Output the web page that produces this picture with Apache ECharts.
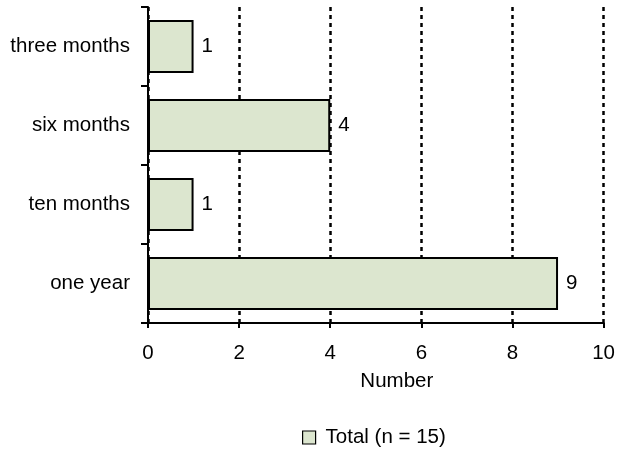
<!DOCTYPE html>
<html><head><meta charset="utf-8">
<script src="https://cdn.jsdelivr.net/npm/echarts@6/dist/echarts.min.js"></script>
<style>html,body{margin:0;padding:0;background:#fff}#c{width:618px;height:450px}</style>
</head><body><div id="c"></div>
<script>
const categories = ['three months', 'six months', 'ten months', 'one year'];
const values = [1, 4, 1, 9];
const seriesName = 'Total (n = 15)';
const xTicks = [0, 2, 4, 6, 8, 10];

const chart = echarts.init(document.getElementById('c'), null, {renderer: 'canvas'});
const font = 'Liberation Sans, Arial, sans-serif';
const fs = 20.5;
chart.setOption({
  animation: false,
  backgroundColor: '#fff',
  grid: {left: 148, right: 12, top: 7, bottom: 127, containLabel: false},
  legend: {
    top: 427, left: 302, padding: 0,
    icon: 'rect', itemWidth: 13, itemHeight: 13,
    itemStyle: {borderColor: '#000', borderWidth: 1.2},
    textStyle: {fontFamily: font, fontSize: fs, color: '#000', padding: [0, 0, 0, 5]},
    data: [seriesName]
  },
  xAxis: {
    type: 'value', min: xTicks[0], max: xTicks[xTicks.length - 1], interval: 2,
    name: 'Number', nameLocation: 'middle', nameGap: 48,
    nameTextStyle: {fontFamily: font, fontSize: fs, color: '#000', padding: [0, 0, 0, 42]},
    axisLine: {show: true, lineStyle: {color: '#000', width: 2}},
    axisTick: {show: true, length: 5, lineStyle: {color: '#000', width: 2}},
    axisLabel: {fontFamily: font, fontSize: fs, color: '#000', margin: 20},
    splitLine: {show: true, lineStyle: {color: '#000', width: 2.5, type: [4, 4]}}
  },
  yAxis: {
    type: 'category', data: categories, inverse: true,
    axisLine: {show: true, lineStyle: {color: '#000', width: 2}},
    axisTick: {show: true, length: 7, lineStyle: {color: '#000', width: 2}},
    axisLabel: {fontFamily: font, fontSize: fs, color: '#000', margin: 18},
    splitLine: {show: false}
  },
  series: [{
    name: seriesName, type: 'bar', data: values,
    barCategoryGap: '33%',
    itemStyle: {color: '#dce6cf', borderColor: '#000', borderWidth: 2},
    label: {show: true, position: 'right', distance: 8, fontFamily: font, fontSize: fs, color: '#000'}
  }]
});
</script></body></html>
